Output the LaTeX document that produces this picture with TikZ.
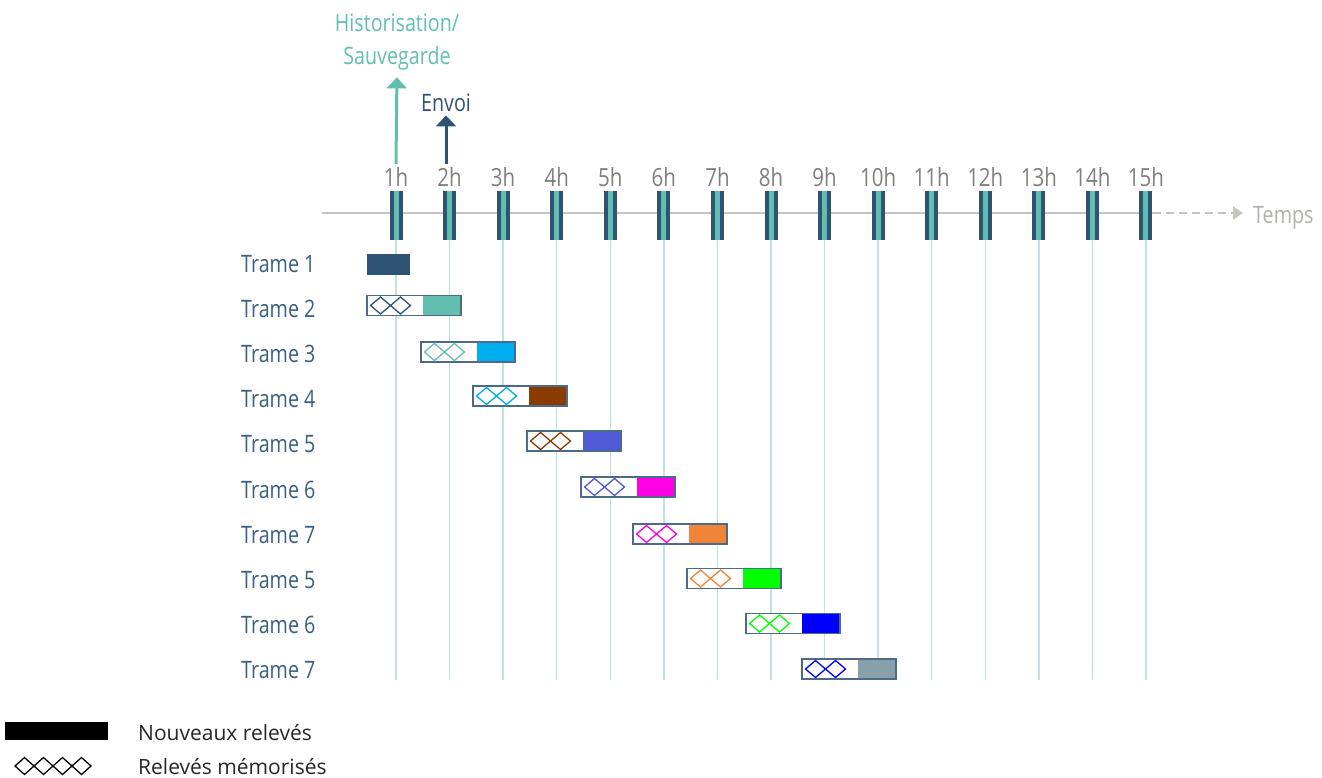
\documentclass[tikz,border=0pt]{standalone}
\usepackage{fontspec}
\setmainfont{Open Sans}[FakeStretch=0.82]
\newfontfamily\legende{Open Sans}
\usepackage{tikz}
\usetikzlibrary{arrows.meta}
\usetikzlibrary{positioning}

\definecolor{bleufonce}{HTML}{2E5375}
\definecolor{turquoise}{HTML}{62BFB0}
\definecolor{cyanclair}{HTML}{00ADEF}
\definecolor{brun}{HTML}{8A3B00}
\definecolor{violet}{HTML}{5059D6}
\definecolor{magenta}{HTML}{FF00E6}
\definecolor{orange}{HTML}{F08438}
\definecolor{vert}{HTML}{00FF00}
\definecolor{bleu}{HTML}{0000FF}
\definecolor{grisbleu}{HTML}{87A0A9}
\definecolor{vertclair}{HTML}{BDE4E0}
\definecolor{gristrait}{HTML}{C3C6BF}
\definecolor{grisheure}{HTML}{7F7F7F}
\definecolor{bleutexte}{HTML}{3A5F82}
\definecolor{cadre}{HTML}{4C6A8A}

\tikzset{
  heure/.style={text=grisheure,font=\fontsize{25}{28}\selectfont},
  trame/.style={text=bleutexte,anchor=west,inner sep=0pt},
  barre/.style={draw=cadre,line width=1.2pt,fill=white},
  fleche/.style={-{Triangle[length=11pt,width=20pt]},line width=3pt},
  legtexte/.style={text=black!85,anchor=west,inner sep=0pt,font=\legende\fontsize{21}{24}\selectfont}
}

\begin{document}
\begin{tikzpicture}[x=1pt,y=-1pt,>={Triangle[length=10pt,width=13pt]},font=\fontsize{24}{33}\selectfont]
\useasboundingbox (0,0) rectangle (1322,778);

% axe du temps
\coordinate (debut) at (322,213);
\coordinate (fin) at (1153,213);
\coordinate (pointe) at (1243,213);
\draw[gristrait,line width=2pt] (debut) -- (fin);
\draw[gristrait,line width=2pt,dash pattern=on 8pt off 5pt,->] (fin) -- (pointe);
\node[text=gristrait!90!black,anchor=west,inner sep=0pt] (temps) at (1253,218) {Temps};

% graduations
\foreach \h in {1,...,15}
{
  \pgfmathsetmacro{\x}{396+(\h-1)*53.57}
  \draw[vertclair,line width=1.5pt] (\x,240) -- (\x,680);
  \fill[bleufonce] (\x-6.5,191) rectangle (\x+6.5,240);
  \fill[turquoise] (\x-2.5,191) rectangle (\x+2.5,240);
  \node[heure] (h\h) at (\x,177) {\h h};
}

% fleches du haut
\node[text=turquoise,align=center,inner sep=0pt] (histo) at (397,42) {Historisation/\\Sauvegarde};
\draw[fleche,turquoise,shorten >=7pt] (h1.north) -- (histo.south);
\node[text=bleufonce] (envoi) at (446,103) {Envoi};
\draw[fleche,bleufonce] (envoi.south |- h2.north) -- (envoi.south);

% libelles des trames
\foreach \k/\n in {1/1,2/2,3/3,4/4,5/5,6/6,7/7,8/5,9/6,10/7}
  \node[trame] (t\k) at (241,{264+(\k-1)*45.1}) {Trame \n};

% trame 1
\fill[bleufonce] (367,254) rectangle (410,275);

% trames suivantes
\foreach \x/\y/\plein/\losange in {367/305.5/turquoise/bleufonce,421/352/cyanclair/turquoise,
  473/396/brun/cyanclair,527/441/violet/brun,581/487/magenta/violet,633/534/orange/magenta,
  687/578.5/vert/orange,746/623.5/bleu/vert,802/669/grisbleu/bleu}
{
  \draw[barre] (\x,\y-10) rectangle (\x+94,\y+10);
  \fill[\plein] (\x+56,\y-9.4) rectangle (\x+93.4,\y+9.4);
  % les deux losanges
  \foreach \c in {13.5,33.5}
    \draw[\losange,line width=1.3pt] (\x+\c-10,\y) -- (\x+\c,\y-8.5) -- (\x+\c+10,\y) -- (\x+\c,\y+8.5) -- cycle;
}

% legende
\fill[black] (5,722) rectangle (108,740);
\foreach \c in {24.5,43.5,62.5,81.5}
  \draw[black,line width=1.3pt] (\c-9.5,766) -- (\c,757.5) -- (\c+9.5,766) -- (\c,774.5) -- cycle;
\node[legtexte] (nouveaux) at (138,732.5) {Nouveaux relevés};
\node[legtexte] (memo) at (138,766.5) {Relevés mémorisés};
\end{tikzpicture}
\end{document}
